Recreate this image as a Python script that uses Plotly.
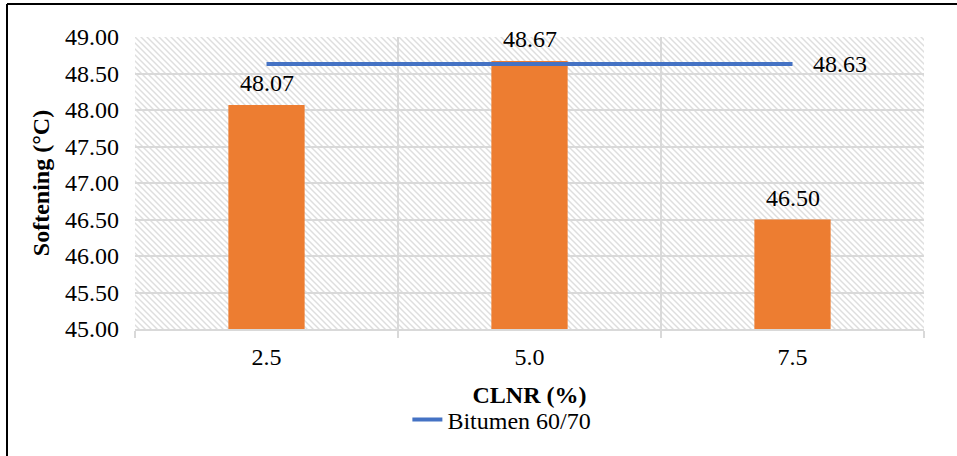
import base64
import plotly.graph_objects as go

# ---- data ----
categories = ["2.5", "5.0", "7.5"]
softening = [48.07, 48.67, 46.50]
bitumen_ref = [48.63, 48.63, 48.63]
bar_labels = ["48.07", "48.67", "46.50"]
line_label = "48.63"
y_ticks = [45.0, 45.5, 46.0, 46.5, 47.0, 47.5, 48.0, 48.5, 49.0]

W, H = 957, 456
ML, MR, MT, MB = 135, 33, 37, 127
PW, PH = W - ML - MR, H - MT - MB

BAR_COLOR = "#ED7D31"
LINE_COLOR = "#4472C4"
GRID = "#d9d9d9"
FONT = "Liberation Serif"
FS = 24

# hatch background as an svg image
svg = f'''<svg xmlns="http://www.w3.org/2000/svg" width="{PW}" height="{PH}" viewBox="0 0 {PW} {PH}">
<defs><pattern id="h" patternUnits="userSpaceOnUse" width="6" height="6">
<path d="M0,0 L6,6 M-1,5 L1,7 M5,-1 L7,1" stroke="#dedede" stroke-width="1.5"/>
</pattern></defs>
<rect width="{PW}" height="{PH}" fill="white"/>
<rect width="{PW}" height="{PH}" fill="url(#h)"/>
</svg>'''
svg_uri = "data:image/svg+xml;base64," + base64.b64encode(svg.encode()).decode()

fig = go.Figure()
fig.add_trace(go.Bar(
    x=categories, y=softening, width=0.29, marker=dict(color=BAR_COLOR, line=dict(width=0)),
    showlegend=False, hoverinfo="skip",
))
fig.add_trace(go.Scatter(
    x=categories, y=bitumen_ref, mode="lines", name="Bitumen 60/70",
    line=dict(color=LINE_COLOR, width=4), hoverinfo="skip",
))

annotations = []
for i, (v, t) in enumerate(zip(softening, bar_labels)):
    annotations.append(dict(x=i, y=v, xref="x", yref="y", text=t, showarrow=False,
                            xanchor="center", yanchor="bottom", yshift=7,
                            font=dict(family=FONT, size=FS, color="black")))
annotations.append(dict(x=len(categories) - 1, y=bitumen_ref[-1], xref="x", yref="y",
                        text=line_label, showarrow=False,
                        xanchor="left", yanchor="middle", xshift=18,
                        font=dict(family=FONT, size=FS, color="black")))

def px_x(px):
    return (px - ML) / PW

def px_y(py):
    return (H - MB - py) / PH

shapes = [
    dict(type="line", xref="paper", yref="paper", x0=px_x(7), x1=px_x(970), y0=px_y(4), y1=px_y(4),
         line=dict(color="black", width=2)),
    dict(type="line", xref="paper", yref="paper", x0=px_x(7), x1=px_x(7), y0=px_y(4), y1=px_y(470),
         line=dict(color="black", width=2)),
]

fig.update_layout(
    width=W, height=H,
    margin=dict(l=ML, r=MR, t=MT, b=MB),
    paper_bgcolor="white", plot_bgcolor="white",
    font=dict(family=FONT, size=FS, color="black"),
    images=[dict(source=svg_uri, xref="paper", yref="paper", x=0, y=1, sizex=1, sizey=1,
                 xanchor="left", yanchor="top", sizing="stretch", layer="below")],
    annotations=annotations,
    shapes=shapes,
    legend=dict(orientation="h", x=0.465, y=px_y(420), xanchor="center", yanchor="middle",
                font=dict(family=FONT, size=FS, color="black"), bgcolor="rgba(0,0,0,0)"),
    xaxis=dict(
        type="category", range=[-0.5, 2.5], tickson="boundaries",
        showgrid=True, gridcolor=GRID, gridwidth=1.5,
        showline=True, linecolor=GRID, linewidth=1.5,
        ticks="outside", ticklen=7, tickcolor=GRID, tickwidth=1.5,
        ticklabelstandoff=5,
        tickfont=dict(family=FONT, size=FS, color="black"),
        title=dict(text="<b>CLNR (%)</b>", font=dict(family=FONT, size=FS, color="black"), standoff=18),
        zeroline=False,
    ),
    yaxis=dict(
        range=[45, 49], tickvals=y_ticks, tickformat=".2f",
        showgrid=True, gridcolor=GRID, gridwidth=1.5,
        showline=False, zeroline=False, ticks="",
        ticklabelstandoff=15,
        tickfont=dict(family=FONT, size=FS, color="black"),
        title=dict(text="<b>Softening (°C)</b>", font=dict(family=FONT, size=FS, color="black"), standoff=8),
    ),
)

fig.write_html("out.html")
